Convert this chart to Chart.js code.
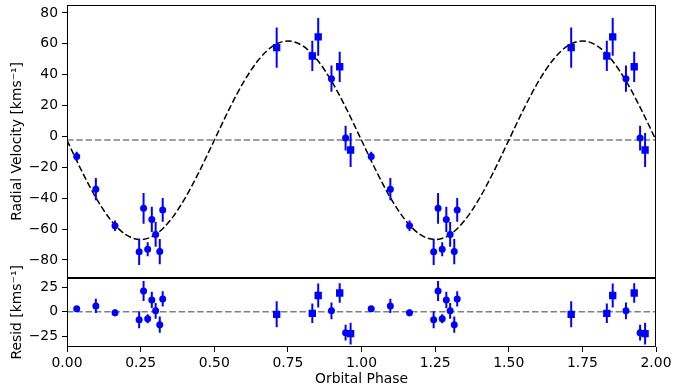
<!DOCTYPE html>
<html>
<head>
<meta charset="utf-8">
<script src="https://cdn.jsdelivr.net/npm/chart.js@4.4.1/dist/chart.umd.min.js"></script>
<style>
  html, body { margin: 0; padding: 0; background: #fff; }
  #wrap { width: 674px; height: 391px; }
</style>
</head>
<body>
<div id="wrap"><canvas id="rvChart" width="674" height="391"></canvas></div>
<script>
// Datos observados (una fase orbital), se repiten en la segunda fase
const phase = [0.033, 0.098, 0.163, 0.245, 0.260, 0.274, 0.288, 0.301, 0.315, 0.325,
               0.712, 0.833, 0.853, 0.898, 0.926, 0.946, 0.963];
const rv = [-13.0, -34.2, -57.9, -74.8, -46.6, -73.1, -53.8, -63.5, -74.6, -47.6,
            57.5, 52.1, 64.5, 37.4, 45.1, -1.1, -8.8];
const rvErr = [3.0, 7.2, 3.4, 8.5, 10.0, 4.6, 8.2, 8.0, 8.2, 7.7,
               13.1, 9.8, 12.2, 8.5, 9.8, 8.0, 11.0];
const resid = [3, 6, -1, -8, 21, -7, 12, 1, -13, 13,
               -2.5, -1.5, 16.5, 1, 19, -21, -22];
const marker = ['circle', 'circle', 'circle', 'circle', 'circle', 'circle', 'circle', 'circle', 'circle', 'circle',
                'rect', 'rect', 'rect', 'circle', 'rect', 'circle', 'rect'];

// Curva del modelo
const modelPhase = [0, 0.05, 0.1, 0.15, 0.2, 0.25, 0.3, 0.35, 0.4, 0.45, 0.5, 0.55, 0.6, 0.65, 0.7, 0.75, 0.8, 0.85, 0.9, 0.95,
                    1, 1.05, 1.1, 1.15, 1.2, 1.25, 1.3, 1.35, 1.4, 1.45, 1.5, 1.55, 1.6, 1.65, 1.7, 1.75, 1.8, 1.85, 1.9, 1.95, 2];
const modelRv = [-2.5, -22.4, -40.3, -54.5, -63.7, -66.8, -63.7, -54.5, -40.3, -22.4, -2.5, 17.4, 35.3, 49.5, 58.7, 61.8, 58.7, 49.5, 35.3, 17.4,
                 -2.5, -22.4, -40.3, -54.5, -63.7, -66.8, -63.7, -54.5, -40.3, -22.4, -2.5, 17.4, 35.3, 49.5, 58.7, 61.8, 58.7, 49.5, 35.3, 17.4, -2.5];
const gamma = -2.4;

const xTicks = [0, 0.25, 0.5, 0.75, 1, 1.25, 1.5, 1.75, 2];
const yTicks = [-80, -60, -40, -20, 0, 20, 40, 60, 80];
const residTicks = [-25, 0, 25];

const BLUE = '#0000ff';
const FONT = { family: 'DejaVu Sans', size: 13.9 };
const DASH = [6.5, 2.8];

// Dos ciclos: fase y fase + 1
const allPhase = phase.concat(phase.map(p => p + 1));
const allRv = rv.concat(rv);
const allErr = rvErr.concat(rvErr);
const allResid = resid.concat(resid);
const allMarker = marker.concat(marker);

function points(values) {
    return allPhase.map((p, i) => ({ x: p, y: values[i] }));
}

// Barras de error como segmentos separados por huecos
function errorBars(values) {
    const out = [];
    allPhase.forEach((p, i) => {
        out.push({ x: p, y: values[i] - allErr[i] });
        out.push({ x: p, y: values[i] + allErr[i] });
        out.push({ x: p, y: null });
    });
    return out;
}

// Etiquetas con signo menos tipografico, como matplotlib
const minusLabel = v => (v < 0 ? '\u2212' + Math.abs(v) : String(v));

const framePlugin = {
    id: 'frame',
    beforeDraw(chart) {
        const ctx = chart.ctx;
        ctx.save();
        ctx.fillStyle = '#fff';
        ctx.fillRect(0, 0, chart.width, chart.height);
        ctx.restore();
    },
    afterDraw(chart) {
        const { ctx, scales } = chart;
        const x = scales.x;
        ctx.save();
        ctx.strokeStyle = '#000';
        ctx.lineWidth = 1;
        [scales.y, scales.yR].forEach(s => {
            const l = Math.round(x.left) + 0.5, r = Math.round(x.right) - 0.5;
            const t = Math.round(s.top) + 0.5, b = Math.round(s.bottom) - 0.5;
            ctx.strokeRect(l, t, r - l, b - t);
        });
        ctx.restore();
    }
};

const gridOpts = { drawOnChartArea: false, drawTicks: true, tickLength: 5, tickColor: '#000', tickWidth: 1 };

// Ancho fijo del eje y sin el margen extra de las etiquetas
function fitY(s) {
    s.width = 67;
    s.paddingTop = 0;
    s.paddingBottom = 0;
}

// Alto fijo del eje x, sin margen lateral por las etiquetas
function fitX(s) {
    s.height = 44;
    s.paddingLeft = 0;
    s.paddingRight = 0;
}

const chart = new Chart(document.getElementById('rvChart'), {
    type: 'scatter',
    data: {
        datasets: [
            {
                label: 'rv',
                yAxisID: 'y',
                data: points(allRv),
                pointStyle: allMarker,
                pointRadius: allMarker.map(m => m === 'rect' ? 5.2 : 3.5),
                backgroundColor: BLUE,
                borderColor: BLUE,
                borderWidth: 0,
                order: 0
            },
            {
                label: 'rvErr',
                yAxisID: 'y',
                type: 'line',
                data: errorBars(allRv),
                borderColor: BLUE,
                borderWidth: 2,
                pointRadius: 0,
                spanGaps: false,
                order: 1
            },
            {
                label: 'model',
                yAxisID: 'y',
                type: 'line',
                data: modelPhase.map((p, i) => ({ x: p, y: modelRv[i] })),
                borderColor: '#000',
                borderWidth: 1.5,
                borderDash: DASH,
                cubicInterpolationMode: 'monotone',
                pointRadius: 0,
                order: 2
            },
            {
                label: 'gamma',
                yAxisID: 'y',
                type: 'line',
                data: [{ x: 0, y: gamma }, { x: 2, y: gamma }],
                borderColor: '#808080',
                borderWidth: 1.5,
                borderDash: DASH,
                pointRadius: 0,
                order: 3
            },
            {
                label: 'resid',
                yAxisID: 'yR',
                data: points(allResid),
                pointStyle: allMarker,
                pointRadius: allMarker.map(m => m === 'rect' ? 5.2 : 3.5),
                backgroundColor: BLUE,
                borderColor: BLUE,
                borderWidth: 0,
                order: 0
            },
            {
                label: 'residErr',
                yAxisID: 'yR',
                type: 'line',
                data: errorBars(allResid),
                borderColor: BLUE,
                borderWidth: 2,
                pointRadius: 0,
                spanGaps: false,
                order: 1
            },
            {
                label: 'zero',
                yAxisID: 'yR',
                type: 'line',
                data: [{ x: 0, y: 0 }, { x: 2, y: 0 }],
                borderColor: '#808080',
                borderWidth: 1.5,
                borderDash: DASH,
                pointRadius: 0,
                order: 3
            }
        ]
    },
    options: {
        responsive: false,
        animation: false,
        layout: { padding: { top: 0, right: 18, left: 0, bottom: 0 } },
        plugins: { legend: { display: false }, tooltip: { enabled: false } },
        scales: {
            x: {
                type: 'linear',
                position: 'bottom',
                min: 0,
                max: 2,
                afterBuildTicks: s => { s.ticks = xTicks.map(v => ({ value: v })); },
                ticks: { font: FONT, color: '#000', padding: 3, maxRotation: 0, autoSkip: false, callback: v => v.toFixed(2) },
                grid: gridOpts,
                border: { display: false },
                title: { display: true, text: 'Orbital Phase', font: FONT, color: '#000', padding: { top: 2, bottom: 3 } },
                afterFit: fitX
            },
            yR: {
                type: 'linear',
                position: 'left',
                stack: 'panels',
                stackWeight: 70,
                min: -35.5,
                max: 34.5,
                afterBuildTicks: s => { s.ticks = residTicks.map(v => ({ value: v })); },
                ticks: { font: FONT, color: '#000', padding: 4, autoSkip: false, callback: minusLabel },
                grid: gridOpts,
                border: { display: false },
                title: { display: true, text: 'Resid [kms⁻¹]', font: FONT, color: '#000', padding: { top: 9, bottom: 0 } },
                afterFit: fitY
            },
            y: {
                type: 'linear',
                position: 'left',
                stack: 'panels',
                stackWeight: 275,
                min: -91.5,
                max: 85,
                afterBuildTicks: s => { s.ticks = yTicks.map(v => ({ value: v })); },
                ticks: { font: FONT, color: '#000', padding: 4, autoSkip: false, callback: minusLabel },
                grid: gridOpts,
                border: { display: false },
                title: { display: true, text: 'Radial Velocity [kms⁻¹]', font: FONT, color: '#000', padding: { top: 9, bottom: 0 } },
                afterFit: fitY
            }
        }
    },
    plugins: [framePlugin]
});
</script>
</body>
</html>
